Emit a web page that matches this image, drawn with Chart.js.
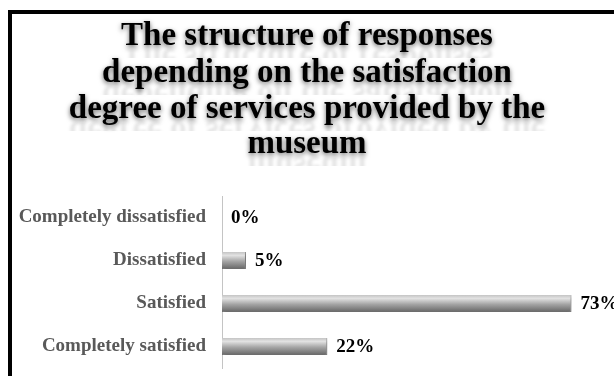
<!DOCTYPE html>
<html>
<head>
<meta charset="utf-8">
<script src="https://cdn.jsdelivr.net/npm/chart.js@4/dist/chart.umd.min.js"></script>
<style>
  html, body { margin: 0; padding: 0; background: #fff; overflow: hidden; }
  #wrap { position: relative; width: 614px; height: 376px; }
</style>
</head>
<body>
<div id="wrap"><canvas id="c" width="614" height="376"></canvas></div>
<script>
// Survey answers, top to bottom
const categories = ["Completely dissatisfied", "Dissatisfied", "Satisfied", "Completely satisfied"];
const shares = [0, 5, 73, 22];
const titleLines = [
  "The structure of responses",
  "depending on the satisfaction",
  "degree of services provided by the",
  "museum"
];

const SERIF = "'Liberation Serif', 'Times New Roman', serif";

// Frame and shadowed title
const framePlugin = {
  id: 'frameTitle',
  beforeDraw(chart) {
    const ctx = chart.ctx;
    ctx.save();
    ctx.fillStyle = '#ffffff';
    ctx.fillRect(0, 0, chart.width, chart.height);
    ctx.fillStyle = '#000000';
    ctx.fillRect(8, 10, chart.width - 8, 4);
    ctx.fillRect(8, 10, 4, chart.height - 10);
    ctx.restore();
  },
  afterDraw(chart) {
    const ctx = chart.ctx;
    const cx = chart.width / 2;
    const baselines = [45, 82, 118, 153];
    ctx.save();
    ctx.font = "bold 33px " + SERIF;
    ctx.textAlign = 'center';
    ctx.textBaseline = 'alphabetic';
    // short, faded mirror image just below each line
    titleLines.forEach((t, i) => {
      const b = baselines[i];
      ctx.save();
      ctx.beginPath();
      ctx.rect(0, b + 2, chart.width, 11);
      ctx.clip();
      ctx.translate(0, b * 2 + 4);
      ctx.scale(1, -1);
      ctx.globalAlpha = 0.1;
      ctx.filter = 'blur(1.6px)';
      ctx.fillStyle = '#000';
      ctx.fillText(t, cx, b);
      ctx.restore();
    });
    ctx.shadowColor = 'rgba(0,0,0,0.6)';
    ctx.shadowBlur = 5;
    ctx.shadowOffsetX = 0;
    ctx.shadowOffsetY = 2;
    ctx.fillStyle = '#000';
    titleLines.forEach((t, i) => ctx.fillText(t, cx, baselines[i]));
    ctx.restore();
  }
};

// Drop shadow for the bars
const barShadow = {
  id: 'barShadow',
  beforeDatasetsDraw(chart) {
    const ctx = chart.ctx;
    ctx.save();
    ctx.shadowColor = 'rgba(0,0,0,0.35)';
    ctx.shadowBlur = 4;
    ctx.shadowOffsetX = 1;
    ctx.shadowOffsetY = 2;
  },
  afterDatasetsDraw(chart) {
    chart.ctx.restore();
  }
};

// Percentage labels at the end of each bar
const valueLabels = {
  id: 'valueLabels',
  afterDatasetsDraw(chart) {
    const ctx = chart.ctx;
    const meta = chart.getDatasetMeta(0);
    ctx.save();
    ctx.font = "bold 19px " + SERIF;
    ctx.fillStyle = '#000';
    ctx.textAlign = 'left';
    ctx.textBaseline = 'middle';
    meta.data.forEach((bar, i) => {
      const v = chart.data.datasets[0].data[i];
      ctx.fillText(v + '%', bar.x + 9, bar.y + 1);
    });
    ctx.restore();
  }
};

// Vertical metallic gradient for each bar, anchored on the bar's own row
function barFill(context) {
  const chart = context.chart;
  const yScale = chart.scales.y;
  if (!yScale || context.dataIndex === undefined) return '#a0a0a0';
  const y = yScale.getPixelForValue(context.dataIndex);
  if (!isFinite(y)) return '#a0a0a0';
  const half = 8.5;
  const g = chart.ctx.createLinearGradient(0, y - half, 0, y + half);
  g.addColorStop(0, '#c4c4c4');
  g.addColorStop(0.2, '#e2e2e2');
  g.addColorStop(0.55, '#a4a4a4');
  g.addColorStop(1, '#666666');
  return g;
}

new Chart(document.getElementById('c'), {
  type: 'bar',
  data: {
    labels: categories,
    datasets: [{
      data: shares,
      backgroundColor: barFill,
      borderColor: 'rgba(80,80,80,0.6)',
      borderWidth: { top: 0, left: 0, right: 1, bottom: 1 },
      barPercentage: 0.4,
      categoryPercentage: 1
    }]
  },
  options: {
    indexAxis: 'y',
    responsive: false,
    animation: false,
    devicePixelRatio: 1,
    layout: { padding: { top: 196, bottom: 8, left: 0, right: 9 } },
    plugins: {
      legend: { display: false },
      title: { display: false },
      tooltip: { enabled: false }
    },
    scales: {
      x: {
        display: false,
        min: 0,
        max: 80
      },
      y: {
        afterFit(scale) {
          scale.width = 222;
          scale.paddingTop = 0;
          scale.paddingBottom = 0;
        },
        grid: { display: false, drawTicks: false },
        border: { display: true, color: '#c4c4c4', width: 1 },
        ticks: {
          padding: 16,
          color: '#595959',
          font: { family: SERIF, size: 19, weight: 'bold' }
        }
      }
    }
  },
  plugins: [framePlugin, barShadow, valueLabels]
});
</script>
</body>
</html>
